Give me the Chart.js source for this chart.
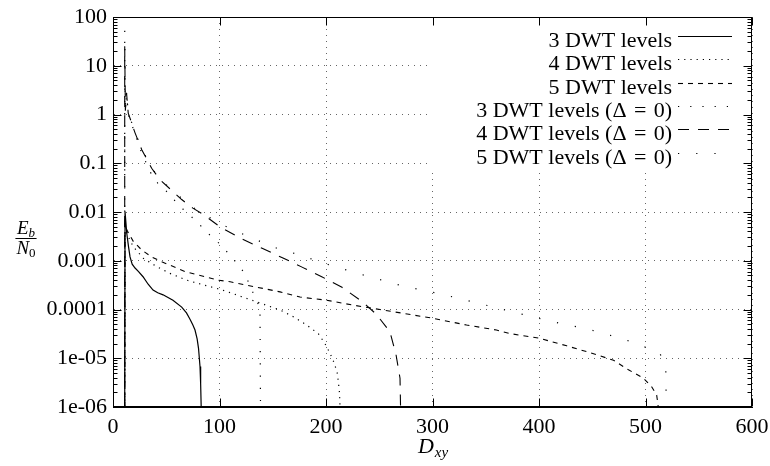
<!DOCTYPE html>
<html><head><meta charset="utf-8">
<script src="https://cdn.jsdelivr.net/npm/chart.js@4.4.0/dist/chart.umd.min.js"></script>
<style>html,body{margin:0;padding:0;background:#fff}canvas{display:block}</style>
</head><body>
<canvas id="c" width="770" height="466"></canvas>
<script>
// ---- tick labels ----
const xTicks = [0, 100, 200, 300, 400, 500, 600];
const yTickValues = [1e-6, 1e-5, 1e-4, 1e-3, 1e-2, 0.1, 1, 10, 100];
const yTickLabels = ['1e-06', '1e-05', '0.0001', '0.001', '0.01', '0.1', '1', '10', '100'];
const seriesLabels = ['3 DWT levels', '4 DWT levels', '5 DWT levels',
  '3 DWT levels (Δ\u2004=\u20040)', '4 DWT levels (Δ\u2004=\u20040)', '5 DWT levels (Δ\u2004=\u20040)'];

// ---- series values (D_xy, Eb/N0) ----
const dwt3X = [11, 11.3, 12.9, 14.5, 16, 18, 20.7, 24, 28.2, 33, 37.6, 42, 47, 56.3, 64.5, 69, 72.3, 75, 77, 79, 80.3, 81.7, 82.3, 82.8];
const dwt3Y = [1e-6, 0.0102, 3.7e-3, 2e-3, 1.2e-3, 8.5e-4, 7.1e-4, 6e-4, 4.7e-4, 3.3e-4, 2.5e-4, 2.2e-4, 2.0e-4, 1.55e-4, 1.12e-4, 8.5e-5, 6.3e-5, 4.8e-5, 3.8e-5, 2.5e-5, 1.6e-5, 6.8e-6, 3e-6, 1e-6];

const dwt4X = [11, 11.3, 14.4, 19, 28.5, 41, 53.5, 69.2, 84.8, 100.5, 113, 156.8, 169.3, 181.9, 192.8, 199, 203.8, 207.8, 210.6, 212.5, 213.2];
const dwt4Y = [1e-6, 5e-3, 3.1e-3, 1.95e-3, 1.12e-3, 7.6e-4, 5.5e-4, 4.0e-4, 3.2e-4, 2.6e-4, 2.1e-4, 9.8e-5, 7.1e-5, 4.8e-5, 3.2e-5, 2.0e-5, 1.26e-5, 7.9e-6, 4.9e-6, 2.2e-6, 1e-6];

const dwt5X = [11, 11.3, 12.9, 19, 27, 36.3, 45.7, 56.6, 67.6, 86.4, 98.9, 110, 156.8, 175.6, 200.6, 225.4, 250.7, 282, 300.5, 332, 360, 372.8, 399.4, 426, 448, 470, 484, 498, 505.8, 510.5, 512];
const dwt5Y = [1e-6, 6e-3, 4.3e-3, 2.5e-3, 1.66e-3, 1.2e-3, 9.5e-4, 7.6e-4, 6.0e-4, 4.7e-4, 4.0e-4, 3.7e-4, 2.3e-4, 1.8e-4, 1.55e-4, 1.23e-4, 1.0e-4, 7.7e-5, 6.6e-5, 4.8e-5, 3.8e-5, 3.2e-5, 2.6e-5, 1.8e-5, 1.3e-5, 9.1e-6, 5.8e-6, 3.9e-6, 2.6e-6, 1.75e-6, 1e-6];

const d0dwt3X = [11, 11, 11.6, 12.7, 14.3, 20.7, 27, 36, 42, 50.7, 59.2, 67.6, 76, 83.6, 92, 101.4, 116.4, 124, 128.6, 134, 138, 138.5];
const d0dwt3Y = [1e-6, 10, 1.2, 2.8, 1.0, 0.4, 0.16, 0.06, 0.039, 0.026, 0.016, 0.0104, 7.2e-3, 4.9e-3, 3.2e-3, 2.1e-3, 8.9e-4, 5.4e-4, 3.0e-4, 1.7e-4, 1.07e-4, 1e-6];

const d0dwt4X = [11, 11, 11.6, 12.7, 14.3, 20.7, 27, 36.3, 44.1, 64.5, 75, 85.4, 102, 121, 140, 159.6, 177.5, 196, 215, 234, 247, 260, 265.7, 269.5, 270];
const d0dwt4Y = [1e-6, 25, 1.2, 2.8, 1.07, 0.42, 0.19, 0.079, 0.046, 0.018, 0.012, 8.7e-3, 4.7e-3, 2.8e-3, 1.8e-3, 1.14e-3, 7.4e-4, 4.7e-4, 2.85e-4, 1.45e-4, 8.1e-5, 3.5e-5, 1.2e-5, 3.9e-6, 1e-6];

const d0dwt5X = [11, 11, 11.6, 12.7, 14.3, 20.7, 27, 36.3, 44.1, 64.5, 75, 90, 105, 121, 138, 154, 172, 204, 238.5, 273, 307, 342, 375.6, 410, 445, 479, 496, 512.7, 519, 519.5];
const d0dwt5Y = [1e-6, 60, 1.2, 2.8, 1.1, 0.43, 0.2, 0.08, 0.047, 0.019, 0.0125, 7.9e-3, 5.2e-3, 3.6e-3, 2.5e-3, 1.8e-3, 1.38e-3, 8.1e-4, 4.85e-4, 3.0e-4, 2.1e-4, 1.36e-4, 8.9e-5, 5.8e-5, 4.0e-5, 2.5e-5, 1.8e-5, 1.35e-5, 7.3e-6, 1e-6];

const FONT = '"Liberation Serif", "DejaVu Serif", serif';
const pts = (xs, ys) => xs.map((x, i) => ({x: x, y: ys[i]}));

const styles = [
  {w: 1.2, dash: []},
  {w: 1.2, dash: [1.2, 5]},
  {w: 1.1, dash: [5, 5]},
  {w: 1.2, dash: [1.2, 11]},
  {w: 1.1, dash: [11, 9]},
  {w: 1.2, dash: [1.2, 17]}
];
const seriesData = [pts(dwt3X, dwt3Y), pts(dwt4X, dwt4Y), pts(dwt5X, dwt5Y),
  pts(d0dwt3X, d0dwt3Y), pts(d0dwt4X, d0dwt4Y), pts(d0dwt5X, d0dwt5Y)];

const datasets = seriesData.map((d, i) => ({
  label: seriesLabels[i], data: d, showLine: true, pointRadius: 0,
  borderColor: '#000', borderWidth: styles[i].w, borderDash: styles[i].dash,
  tension: 0, fill: false
}));

const framePlugin = {
  id: 'frame',
  beforeDatasetsDraw(chart) {
    const {ctx, chartArea: a} = chart;
    ctx.save();
    ctx.fillStyle = '#fff';
    const bx = a.right - 320.5;
    ctx.fillRect(bx, a.top, a.right - bx, 155);
    ctx.restore();
  },
  afterDraw(chart) {
    const {ctx, chartArea: a} = chart;
    const xs = chart.scales.x, ys = chart.scales.y;
    const L = Math.round(a.left) + 0.5, R = Math.round(a.right) - 0.5;
    const T = Math.round(a.top) + 0.5, B = Math.round(a.bottom) - 0.5;
    ctx.save();
    ctx.strokeStyle = '#000';
    ctx.lineWidth = 1;
    ctx.setLineDash([]);
    const line = (x1, y1, x2, y2) => { ctx.beginPath(); ctx.moveTo(x1, y1); ctx.lineTo(x2, y2); ctx.stroke(); };
    ctx.strokeRect(L, T, R - L, B - T);
    const major = 8, minor = 4;
    xTicks.forEach(v => {
      const px = Math.round(xs.getPixelForValue(v)) + 0.5;
      line(px, B, px, B - major);
      line(px, T, px, T + major);
    });
    for (let e = -6; e <= 2; e++) {
      for (let m = 1; m < 10; m++) {
        const v = m * Math.pow(10, e);
        if (v > 100.0001) break;
        const py = Math.round(ys.getPixelForValue(v)) + 0.5;
        const len = m === 1 ? major : minor;
        line(L, py, L + len, py);
        line(R, py, R - len, py);
      }
    }
    // legend
    ctx.font = '22px ' + FONT;
    ctx.fillStyle = '#000';
    ctx.textAlign = 'right';
    ctx.textBaseline = 'alphabetic';
    chart.data.datasets.forEach((ds, i) => {
      const cy = a.top + 23 + i * 23.3;
      ctx.fillText(ds.label, a.right - 80, cy + 7);
      ctx.save();
      ctx.lineWidth = ds.borderWidth;
      ctx.setLineDash(ds.borderDash || []);
      line(a.right - 74, Math.round(cy - 4) + 0.5, a.right - 20, Math.round(cy - 4) + 0.5);
      ctx.restore();
    });
    // x axis title D_xy
    const cx = (a.left + a.right) / 2;
    ctx.textAlign = 'left';
    ctx.font = 'italic 22px ' + FONT;
    const wD = ctx.measureText('D').width;
    ctx.font = 'italic 15px ' + FONT;
    const wS = ctx.measureText('xy').width;
    const x0 = cx - (wD + wS) / 2;
    ctx.font = 'italic 22px ' + FONT;
    ctx.fillText('D', x0, a.bottom + 46);
    ctx.font = 'italic 15px ' + FONT;
    ctx.fillText('xy', x0 + wD + 1, a.bottom + 50);
    // y axis title Eb/N0 fraction
    const fx = 26, fy = 238;
    ctx.font = 'italic 19px ' + FONT;
    const wE = ctx.measureText('E').width, wN = ctx.measureText('N').width;
    ctx.font = 'italic 13px ' + FONT;
    const wb = ctx.measureText('b').width;
    ctx.font = '13px ' + FONT;
    const w0 = ctx.measureText('0').width;
    const topW = wE + wb, botW = wN + w0;
    ctx.font = 'italic 19px ' + FONT;
    ctx.fillText('E', fx - topW / 2, fy - 4);
    ctx.fillText('N', fx - botW / 2, fy + 16);
    ctx.font = 'italic 13px ' + FONT;
    ctx.fillText('b', fx - topW / 2 + wE, fy - 1);
    ctx.font = '13px ' + FONT;
    ctx.fillText('0', fx - botW / 2 + wN, fy + 19);
    const bw = Math.max(topW, botW) + 2;
    ctx.lineWidth = 1;
    line(fx - bw / 2, fy + 0.5, fx + bw / 2, fy + 0.5);
    ctx.restore();
  }
};

new Chart(document.getElementById('c').getContext('2d'), {
  type: 'scatter',
  data: {datasets: datasets},
  options: {
    responsive: false,
    animation: false,
    layout: {padding: {top: 17, right: 18, left: 0, bottom: 0}},
    plugins: {legend: {display: false}, tooltip: {enabled: false}},
    elements: {point: {radius: 0}},
    scales: {
      x: {
        type: 'linear', min: 0, max: 600,
        afterBuildTicks(s) { s.ticks = xTicks.map(v => ({value: v})); },
        ticks: {color: '#000', font: {family: FONT, size: 22}, padding: 7, maxRotation: 0, autoSkip: false},
        grid: {color: '#666', lineWidth: 1, drawTicks: false},
        border: {display: true, color: '#000', width: 1, dash: [1, 5]},
        afterFit(s) { s.height = 59; s.paddingRight = 0; s.paddingLeft = 0; }
      },
      y: {
        type: 'logarithmic', min: 1e-6, max: 100,
        afterBuildTicks(s) { s.ticks = yTickValues.map(v => ({value: v})); },
        ticks: {
          color: '#000', font: {family: FONT, size: 22}, padding: 6, autoSkip: false,
          callback: (v) => {
            const i = yTickValues.findIndex(t => Math.abs(Math.log10(t) - Math.log10(v)) < 1e-6);
            return i >= 0 ? yTickLabels[i] : '';
          }
        },
        grid: {color: '#666', lineWidth: 1, drawTicks: false},
        border: {display: true, color: '#000', width: 1, dash: [1, 5]},
        afterFit(s) { s.width = 113; s.paddingTop = 0; s.paddingBottom = 0; }
      }
    }
  },
  plugins: [framePlugin]
});
</script>
</body></html>
